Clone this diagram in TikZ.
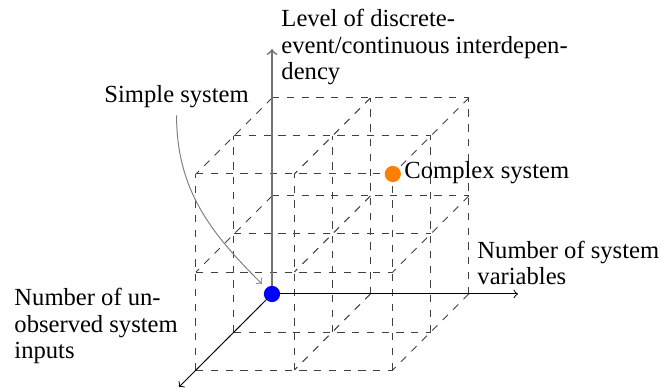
\documentclass[tikz,border=0pt]{standalone}
\usepackage{fontspec}
\setmainfont{Liberation Serif}
\begin{document}
\begin{tikzpicture}[
  x={(40pt,0pt)}, y={(0pt,39.84pt)}, z={(-15.45pt,-15.45pt)},
  grid/.style={dashed, draw=black!75, line width=0.4pt},
  axis/.style={->, line width=0.4pt, black},
  vaxis/.style={->, line width=0.7pt, draw=black!55},
  lbl/.style={anchor=base west, align=left, inner sep=0pt, font={\fontsize{10}{10.8}\selectfont}},
  dot/.style={circle, inner sep=0pt, minimum size=6.6pt},
  pointer/.style={->, draw=black!50, line width=0.4pt, shorten >=2.4pt}
]
\useasboundingbox (-110.57pt,-38.21pt) rectangle (158.13pt,119.51pt);
% dashed lattice
\foreach \a in {0,1,2} {
  \foreach \b in {0,1,2} {
    \draw[grid] (0,\a,\b) -- (2,\a,\b);
    \draw[grid] (\a,0,\b) -- (\a,2,\b);
    \draw[grid] (\a,\b,0) -- (\a,\b,2);
  }
}
% axes
\coordinate (O) at (0,0,0);
\coordinate (xend) at (2.5,0,0);
\coordinate (yend) at (0,2.5,0);
\coordinate (zend) at (0,0,2.45);
\draw[axis] (O) -- (xend);
\draw[vaxis] (O) -- (yend);
\draw[axis] (O) -- (zend);
% points
\node[dot, fill=blue] (simplept) at (O) {};
\node[dot, fill=orange] (complexpt) at (2,2,2) {};
% labels
\node[lbl] (ylab) at (3.66pt,87.0pt) {Level of discrete-\\event/continuous interdepen-\\dency};
\node[lbl] (xlab) at (83.33pt,3.66pt) {Number of system\\variables};
\node[lbl] (zlab) at (-104.88pt,-26.42pt) {Number of un-\\observed system\\inputs};
\node[lbl] (complexlab) at (53.66pt,47.03pt) {Complex system};
\node[lbl, inner sep=3pt] (simplelab) at (-71.3pt,77.93pt) {Simple system};
\draw[pointer] (simplelab.south) to[out=-90, in=135] (simplept);
\end{tikzpicture}
\end{document}
